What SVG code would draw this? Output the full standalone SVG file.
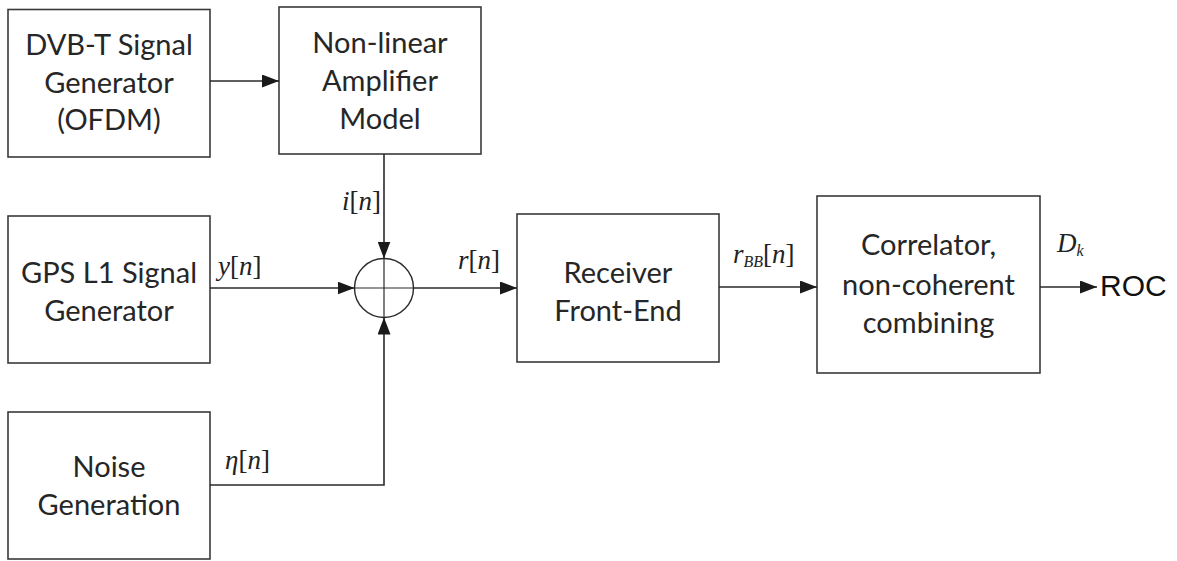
<svg xmlns="http://www.w3.org/2000/svg" width="1177" height="561" viewBox="0 0 1177 561">
<defs>
<style>
.box{fill:#fff;stroke:#3a3a3a;stroke-width:1.6}
.lbl{font-family:Lato,"Open Sans",sans-serif;font-size:29px;fill:#262626;text-anchor:middle}
.wire{fill:none;stroke:#2a2a2a;stroke-width:1.6}
.math{font-family:"Liberation Serif","Times New Roman",serif;font-size:27px;fill:#222}
.it{font-style:italic}
</style>
<marker id="ah" viewBox="0 0 17 13" refX="17" refY="6.5" markerWidth="17" markerHeight="13" markerUnits="userSpaceOnUse" orient="auto">
<path d="M0,0 L17,6.5 L0,13 Z" fill="#1a1a1a"/>
</marker>
</defs>
<rect width="1177" height="561" fill="#fff"/>

<g id="dvbt">
<rect class="box" x="8" y="9.5" width="202" height="147.5"/>
<text class="lbl" x="109" y="55">DVB-T Signal</text>
<text class="lbl" x="109" y="93">Generator</text>
<text class="lbl" x="109" y="130">(OFDM)</text>
</g>

<g id="amplifier">
<rect class="box" x="279" y="7" width="202" height="147"/>
<text class="lbl" x="380" y="53">Non-linear</text>
<text class="lbl" x="380" y="91">Amplifier</text>
<text class="lbl" x="380" y="129">Model</text>
</g>

<g id="gps">
<rect class="box" x="8" y="216" width="202" height="147"/>
<text class="lbl" x="109" y="283">GPS L1 Signal</text>
<text class="lbl" x="109" y="321">Generator</text>
</g>

<g id="noise">
<rect class="box" x="8" y="412" width="202" height="147"/>
<text class="lbl" x="109" y="477">Noise</text>
<text class="lbl" x="109" y="515">Generation</text>
</g>

<g id="adder">
<circle cx="384" cy="288" r="29.5" fill="#fff" stroke="#2a2a2a" stroke-width="1.4"/>
<line x1="384" y1="258.5" x2="384" y2="317.5" stroke="#2a2a2a" stroke-width="1.2"/>
<line x1="354.5" y1="288" x2="413.5" y2="288" stroke="#2a2a2a" stroke-width="1.2"/>
</g>

<g id="receiver">
<rect class="box" x="517" y="214" width="202" height="148"/>
<text class="lbl" x="618" y="283">Receiver</text>
<text class="lbl" x="618" y="321">Front-End</text>
</g>

<g id="correlator">
<rect class="box" x="817" y="196" width="223" height="177"/>
<text class="lbl" x="928.5" y="255">Correlator,</text>
<text class="lbl" x="928.5" y="295">non-coherent</text>
<text class="lbl" x="928.5" y="333">combining</text>
</g>

<g id="connectors">
<line class="wire" x1="210" y1="81" x2="279" y2="81" marker-end="url(#ah)"/>
<line class="wire" x1="384" y1="154" x2="384" y2="258.5" marker-end="url(#ah)"/>
<line class="wire" x1="210" y1="288" x2="354.5" y2="288" marker-end="url(#ah)"/>
<polyline class="wire" points="210,485 384,485 384,317.5" marker-end="url(#ah)"/>
<line class="wire" x1="413.5" y1="288" x2="517" y2="288" marker-end="url(#ah)"/>
<line class="wire" x1="719" y1="287" x2="817" y2="287" marker-end="url(#ah)"/>
<line class="wire" x1="1040" y1="287" x2="1097" y2="287" marker-end="url(#ah)"/>
</g>

<g id="labels">
<text class="math" x="381" y="210" text-anchor="end"><tspan class="it">i</tspan>[<tspan class="it">n</tspan>]</text>
<text class="math" x="218" y="275"><tspan class="it">y</tspan>[<tspan class="it">n</tspan>]</text>
<text class="math" x="458" y="269"><tspan class="it">r</tspan>[<tspan class="it">n</tspan>]</text>
<text class="math" x="733" y="263"><tspan class="it">r</tspan><tspan class="it" font-size="16" dy="4">BB</tspan><tspan dy="-4">[</tspan><tspan class="it">n</tspan>]</text>
<text class="math" x="1057" y="252"><tspan class="it">D</tspan><tspan class="it" font-size="16" dy="4">k</tspan></text>
<text class="math" x="225" y="469"><tspan class="it">η</tspan>[<tspan class="it">n</tspan>]</text>
<text x="1100" y="296" font-family="'Liberation Sans',Arial,sans-serif" font-size="30" fill="#111">ROC</text>
</g>
</svg>
